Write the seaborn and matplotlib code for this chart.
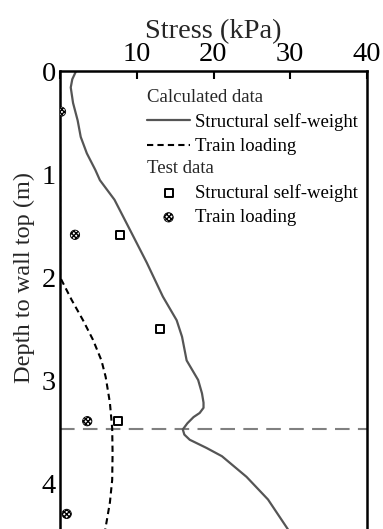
import numpy as np
import pandas as pd
import matplotlib
matplotlib.use("Agg")
import matplotlib.pyplot as plt
from matplotlib.lines import Line2D
import seaborn as sns

# ---- data ----
sw_depth = [0.00, 0.08, 0.16, 0.31, 0.48, 0.64, 0.80, 0.96, 1.06, 1.25, 1.54, 1.86, 2.19, 2.42, 2.58,
            2.81, 3.00, 3.13, 3.22, 3.27, 3.32, 3.36, 3.42, 3.48, 3.53, 3.58, 3.66, 3.74, 3.94, 4.16, 4.45]
sw_stress = [2.1, 1.6, 1.4, 1.7, 2.3, 2.7, 3.5, 4.6, 5.2, 7.1, 9.1, 11.3, 13.4, 15.2, 15.9,
             16.5, 18.0, 18.5, 18.7, 18.7, 18.2, 17.4, 16.6, 16.0, 16.2, 16.9, 19.1, 21.1, 24.3, 27.1, 29.7]

tl_depth = [0.00, 1.00, 2.00, 2.03, 2.22, 2.42, 2.61, 2.81, 2.97, 3.22, 3.47, 3.71, 3.97, 4.19, 4.45]
tl_stress = [0.0, 0.0, 0.0, 0.2, 1.5, 3.0, 4.3, 5.4, 5.95, 6.5, 6.8, 6.85, 6.8, 6.5, 5.9]

test_sw_depth = [1.59, 2.50, 3.40]
test_sw_stress = [7.8, 13.0, 7.5]

test_tl_depth = [0.395, 1.59, 3.40, 4.30]
test_tl_stress = [0.13, 1.95, 3.55, 0.87]

ref_depth = 3.48
x_ticks = [0, 10, 20, 30, 40]
x_ticklabels = ["", "10", "20", "30", "40"]
y_ticks = [0, 1, 2, 3, 4]

# ---- style ----
sns.set_style("white")
plt.rcParams["font.family"] = ["Liberation Serif", "DejaVu Serif"]
plt.rcParams["hatch.linewidth"] = 1.0

W, H = 383, 529
fig = plt.figure(figsize=(W / 100, H / 100), dpi=100)
ax = fig.add_axes([60 / W, 0.0, (367 - 60) / W, (529 - 71) / H])

sns.lineplot(x=sw_stress, y=sw_depth, sort=False, estimator=None, ax=ax,
             color="#555555", lw=1.6, label="_nolegend_")
sns.lineplot(x=tl_stress, y=tl_depth, sort=False, estimator=None, ax=ax,
             color="black", lw=1.5, label="_nolegend_")
ax.lines[-1].set_dashes((3, 2))
ax.axhline(ref_depth, color="#808080", lw=1.5, dashes=(7, 4), zorder=1)

sns.scatterplot(x=test_sw_stress, y=test_sw_depth, ax=ax, marker="s", s=38,
                facecolor="white", edgecolor="black", linewidth=1.4, zorder=5)
sq_handle = ax.collections[-1]
sns.scatterplot(x=test_tl_stress, y=test_tl_depth, ax=ax, marker="o", s=45,
                facecolor="white", edgecolor="black", linewidth=0.6, hatch="xxxxxxx", zorder=5)
hx_handle = ax.collections[-1]

ax.set_xlim(0, 40)
ax.set_ylim((529 - 71) / 103, 0)
ax.xaxis.tick_top()
ax.xaxis.set_label_position("top")
ax.set_xticks(x_ticks)
ax.set_xticklabels(x_ticklabels)
ax.set_yticks(y_ticks)
ax.tick_params(axis="both", direction="in", length=6, width=1.5, labelsize=20.5, pad=3,
               colors="black")
ax.set_xlabel("Stress (kPa)", fontsize=20.5, labelpad=3)
ax.set_ylabel("Depth to wall top (m)", fontsize=17.5)
ax.yaxis.set_label_coords(-0.082, 0.549)

for side in ["left", "top", "right"]:
    ax.spines[side].set_visible(True)
    ax.spines[side].set_linewidth(1.8)
    ax.spines[side].set_color("black")
ax.spines["bottom"].set_visible(False)

# ---- legends ----
h_calc = [Line2D([], [], color="#555555", lw=1.6),
          Line2D([], [], color="black", lw=1.5, dashes=(3, 2))]
h_test = [sq_handle, hx_handle]
fs = 13.5
common = dict(loc="upper left", bbox_transform=fig.transFigure, frameon=False, fontsize=fs,
              title_fontsize=fs, alignment="left", borderpad=0, borderaxespad=0,
              handlelength=2.3, handletextpad=0.25, labelspacing=0.38)
leg1 = ax.legend(h_calc, ["Structural self-weight", "Train loading"], title="Calculated data",
                 bbox_to_anchor=(147 / W, 1 - 89 / H), **common)
ax.add_artist(leg1)
leg2 = ax.legend(h_test, ["Structural self-weight", "Train loading"], title="Test data",
                 bbox_to_anchor=(147 / W, 1 - 160 / H), scatterpoints=1, **common)
for t in leg1.get_texts() + leg2.get_texts():
    t.set_color("black")

fig.savefig("out.png", dpi=100)
